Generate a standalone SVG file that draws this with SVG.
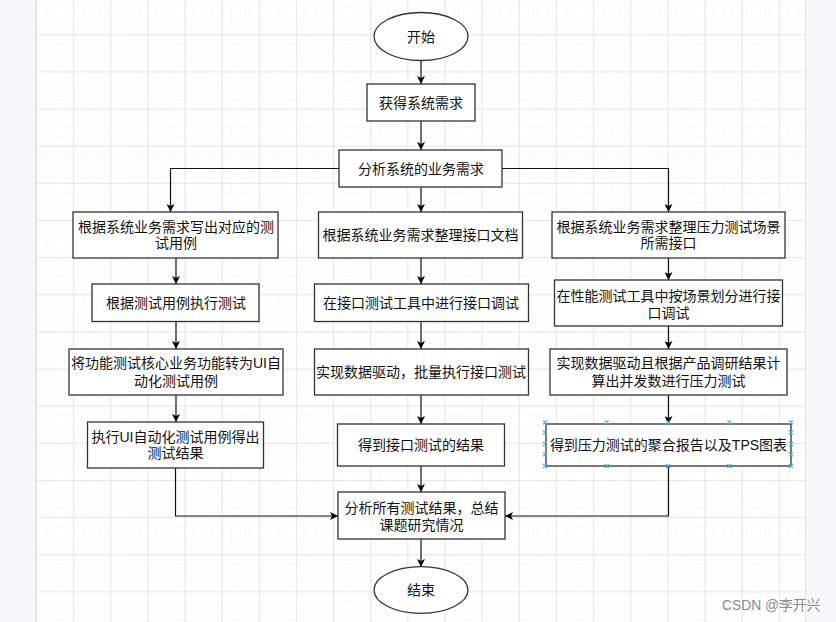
<svg xmlns="http://www.w3.org/2000/svg" width="836" height="622" viewBox="0 0 836 622">
<defs>
<pattern id="minor" patternUnits="userSpaceOnUse" x="36" y="-2.84" width="9.285" height="9.285">
<path d="M0,0.3 H9.285 M0.3,0 V9.285" stroke="#f3f3f3" stroke-width="0.8" fill="none"/>
</pattern>
<pattern id="major" patternUnits="userSpaceOnUse" x="36" y="-2.84" width="37.14" height="37.14">
<path d="M0,0.5 H37.14 M0.5,0 V37.14" stroke="#e6e6e6" stroke-width="1" fill="none"/>
</pattern>
<marker id="arr" viewBox="0 0 10 10" refX="10" refY="5" markerWidth="8" markerHeight="8" markerUnits="userSpaceOnUse" orient="auto">
<path d="M0,0 L10,5 L0,10 L2.5,5 z" fill="#000"/>
</marker>
</defs>
<style>
.n{fill:#fff;stroke:#333;stroke-width:1.3}
.t{font-family:"Liberation Sans","Noto Sans CJK SC",sans-serif;font-size:14px;fill:#111;text-anchor:middle}
.c{fill:none;stroke:#111;stroke-width:1.2;marker-end:url(#arr)}
.h{stroke:#29b6f2;stroke-width:1.2;fill:none}
</style>
<rect width="836" height="622" fill="#f6f7f9"/>
<rect x="36" y="0" width="769" height="622" fill="#fff"/>
<rect x="36" y="0" width="769" height="622" fill="url(#minor)"/>
<rect x="36" y="0" width="769" height="622" fill="url(#major)"/>
<line x1="35.5" y1="0" x2="35.5" y2="622" stroke="#e2e4e8"/>
<line x1="805.5" y1="0" x2="805.5" y2="622" stroke="#e2e4e8"/>

<g id="connectors">
<path class="c" d="M421,60 V84"/>
<path class="c" d="M421,121 V150"/>
<path class="c" d="M339,168.5 H170.5 V212"/>
<path class="c" d="M502,168.5 H668.5 V212"/>
<path class="c" d="M421,187 V212"/>
<path class="c" d="M176,258 V284"/>
<path class="c" d="M176,321.5 V349"/>
<path class="c" d="M176,395 V422"/>
<path class="c" d="M421,258 V284"/>
<path class="c" d="M421,321.5 V349"/>
<path class="c" d="M421,395 V424"/>
<path class="c" d="M668.5,258 V280"/>
<path class="c" d="M668.5,326 V349"/>
<path class="c" d="M668.5,395 V424"/>
<path class="c" d="M175.5,468 V516 H338"/>
<path class="c" d="M668.5,466 V516 H505"/>
<path class="c" d="M421,466 V492"/>
<path class="c" d="M421,539 V567"/>
</g>

<g id="start"><ellipse class="n" cx="421" cy="36.5" rx="47" ry="24"/><text class="t" x="421" y="41.5">开始</text></g>
<g id="get-req"><rect class="n" x="367" y="84" width="108" height="37"/><text class="t" x="421" y="107.5">获得系统需求</text></g>
<g id="analyze-req"><rect class="n" x="339" y="150" width="163" height="37"/><text class="t" x="421" y="173.5">分析系统的业务需求</text></g>

<g id="c1-1"><rect class="n" x="73" y="212" width="205" height="46"/><text class="t" x="176" y="232.3">根据系统业务需求写出对应的测</text><text class="t" x="176" y="248.3">试用例</text></g>
<g id="c1-2"><rect class="n" x="92" y="284" width="167" height="37.5"/><text class="t" x="176" y="308">根据测试用例执行测试</text></g>
<g id="c1-3"><rect class="n" x="69" y="349" width="214" height="46"/><text class="t" x="176" y="368.3">将功能测试核心业务功能转为UI自</text><text class="t" x="176" y="385.7">动化测试用例</text></g>
<g id="c1-4"><rect class="n" x="87.5" y="422" width="176" height="46"/><text class="t" x="175.5" y="442.3">执行UI自动化测试用例得出</text><text class="t" x="175.5" y="458.3">测试结果</text></g>

<g id="c2-1"><rect class="n" x="318.5" y="212" width="204" height="46"/><text class="t" x="420.5" y="240">根据系统业务需求整理接口文档</text></g>
<g id="c2-2"><rect class="n" x="314.5" y="284" width="214" height="37.5"/><text class="t" x="421" y="308">在接口测试工具中进行接口调试</text></g>
<g id="c2-3"><rect class="n" x="314.5" y="349" width="214" height="46"/><text class="t" x="421" y="377">实现数据驱动，批量执行接口测试</text></g>
<g id="c2-4"><rect class="n" x="337.5" y="424" width="167" height="42"/><text class="t" x="421" y="450">得到接口测试的结果</text></g>

<g id="c3-1"><rect class="n" x="552" y="212" width="233" height="46"/><text class="t" x="668.5" y="232.3">根据系统业务需求整理压力测试场景</text><text class="t" x="668.5" y="248.3">所需接口</text></g>
<g id="c3-2"><rect class="n" x="554.5" y="280" width="228" height="46"/><text class="t" x="668.5" y="301">在性能测试工具中按场景划分进行接</text><text class="t" x="668.5" y="317.7">口调试</text></g>
<g id="c3-3"><rect class="n" x="550" y="349" width="237" height="46"/><text class="t" x="668.5" y="368.3">实现数据驱动且根据产品调研结果计</text><text class="t" x="668.5" y="385.7">算出并发数进行压力测试</text></g>
<g id="c3-4"><rect class="n" x="546" y="424" width="245" height="42"/><text class="t" x="668.5" y="450">得到压力测试的聚合报告以及TPS图表</text>
<path class="h" d="M543,420.3 l4,4 m0,-4 l-4,4 M604.7,420.3 l4,4 m0,-4 l-4,4 M666.3,420.3 l4,4 m0,-4 l-4,4 M727.3,420.3 l4,4 m0,-4 l-4,4 M789,420.3 l4,4 m0,-4 l-4,4 M543,464 l4,4 m0,-4 l-4,4 M604.7,464 l4,4 m0,-4 l-4,4 M666.3,464 l4,4 m0,-4 l-4,4 M727.3,464 l4,4 m0,-4 l-4,4 M789,464 l4,4 m0,-4 l-4,4 M543,430.3 l4,4 m0,-4 l-4,4 M543,442 l4,4 m0,-4 l-4,4 M543,452.3 l4,4 m0,-4 l-4,4 M789,430.3 l4,4 m0,-4 l-4,4 M789,442 l4,4 m0,-4 l-4,4 M789,452.3 l4,4 m0,-4 l-4,4"/></g>

<g id="summary"><rect class="n" x="338" y="492" width="167" height="47"/><text class="t" x="421.5" y="512.7">分析所有测试结果，总结</text><text class="t" x="421.5" y="530">课题研究情况</text></g>
<g id="end"><ellipse class="n" cx="421" cy="590" rx="47" ry="23.3"/><text class="t" x="421" y="595">结束</text></g>

<text x="722" y="610" style="font-family:'Liberation Sans','Noto Sans CJK SC',sans-serif;font-size:13.8px;fill:#8a8a8a">CSDN @李开兴</text>
</svg>
